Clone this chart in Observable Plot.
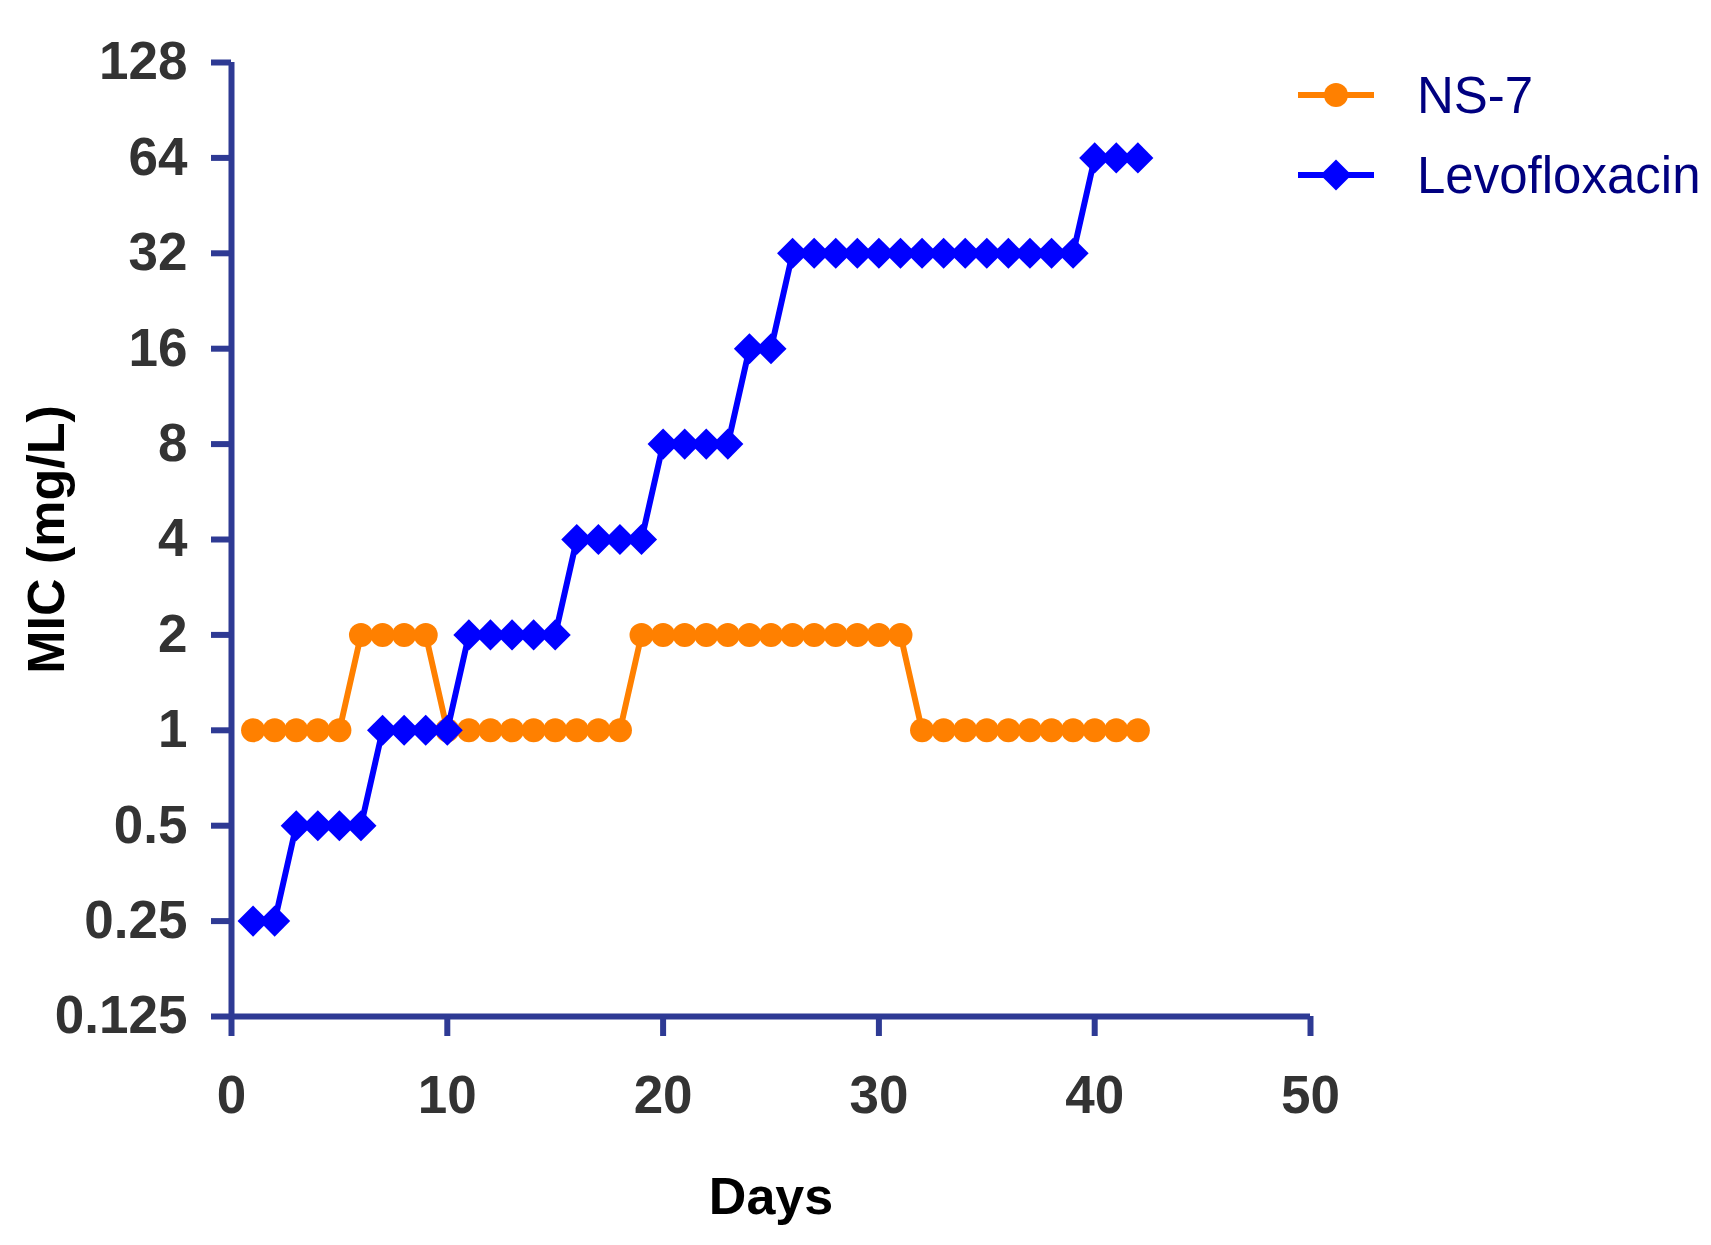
<!DOCTYPE html>
<html>
<head>
<meta charset="utf-8">
<script src="https://cdn.jsdelivr.net/npm/d3@7"></script>
<script src="https://cdn.jsdelivr.net/npm/@observablehq/plot@0.6"></script>
<style>
  html, body { margin: 0; padding: 0; background: #fff; }
  #wrap { position: relative; width: 1711px; height: 1245px; overflow: hidden; }
  #legend { position: absolute; left: 0; top: 0; font-family: "Liberation Sans", Arial, sans-serif; }
  .item { position: absolute; display: flex; align-items: center; white-space: nowrap; }
  .item svg { flex: none; }
  .item span { font-size: 51px; color: #000080; line-height: 1; margin-left: 43px; white-space: nowrap; }
</style>
</head>
<body>
<div id="wrap"><div id="legend"></div></div>
<script>
const days = [1,2,3,4,5,6,7,8,9,10,11,12,13,14,15,16,17,18,19,20,21,22,23,24,25,26,27,28,29,30,31,32,33,34,35,36,37,38,39,40,41,42];
const ns7 = [1,1,1,1,1,2,2,2,2,1,1,1,1,1,1,1,1,1,2,2,2,2,2,2,2,2,2,2,2,2,2,1,1,1,1,1,1,1,1,1,1,1];
const levofloxacin = [0.25,0.25,0.5,0.5,0.5,0.5,1,1,1,1,2,2,2,2,2,4,4,4,4,8,8,8,8,16,16,32,32,32,32,32,32,32,32,32,32,32,32,32,32,64,64,64];
const seriesNames = ["NS-7", "Levofloxacin"];
const seriesColors = ["#FF8000", "#0000FF"];
const seriesSymbols = ["circle", "diamond2"];
const xTicks = [0, 10, 20, 30, 40, 50];
const yTicks = [0.125, 0.25, 0.5, 1, 2, 4, 8, 16, 32, 64, 128];
const xLabel = "Days";
const yLabel = "MIC (mg/L)";

const axisColor = "#2E3A94";
const symbolR = [12, 14];
const rows = seriesNames.map((name, i) => days.map((d, j) => ({day: d, mic: [ns7, levofloxacin][i][j], name})));

const marks = [
  Plot.ruleX([0], {stroke: axisColor, strokeWidth: 6}),
  Plot.ruleY([0.125], {stroke: axisColor, strokeWidth: 6}),
  Plot.axisX({ticks: xTicks, tickSize: 20, tickPadding: 39, stroke: axisColor, strokeWidth: 6,
    fill: "#333", fontSize: 53, fontWeight: "bold", label: null}),
  Plot.axisY({ticks: yTicks, tickSize: 20, tickPadding: 24, stroke: axisColor, strokeWidth: 6,
    fill: "#333", fontSize: 53, fontWeight: "bold", tickFormat: d => String(d), label: null}),
  Plot.axisX({ticks: [], tickSize: 0, label: xLabel, labelArrow: "none", labelAnchor: "center", labelOffset: 197,
    fill: "#000", fontSize: 52, fontWeight: "bold"}),
  Plot.axisY({ticks: [], tickSize: 0, label: yLabel, labelArrow: "none", labelAnchor: "center", labelOffset: 204,
    fill: "#000", fontSize: 52, fontWeight: "bold"})
];
rows.forEach((data, i) => {
  marks.push(Plot.line(data, {x: "day", y: "mic", stroke: seriesColors[i], strokeWidth: 6}));
  marks.push(Plot.dot(data, {x: "day", y: "mic", fill: seriesColors[i], symbol: seriesSymbols[i], r: symbolR[i]}));
});

const chart = Plot.plot({
  width: 1711,
  height: 1245,
  marginLeft: 231,
  marginRight: 401,
  marginTop: 62,
  marginBottom: 229,
  style: {fontFamily: "'Liberation Sans', Arial, sans-serif", background: "#fff", overflow: "visible"},
  x: {domain: [0, 50]},
  y: {type: "log", base: 2, domain: [0.125, 128]},
  marks
});
document.getElementById("wrap").prepend(chart);
chart.style.position = "absolute";
chart.style.left = "0";
chart.style.top = "0";

// legend
const legend = document.getElementById("legend");
const legendTops = [95, 175];
seriesNames.forEach((name, i) => {
  const item = document.createElement("div");
  item.className = "item";
  item.style.left = "1298px";
  item.style.top = (legendTops[i] - 30) + "px";
  item.style.height = "60px";
  const sw = d3.create("svg").attr("width", 76).attr("height", 60);
  sw.append("line").attr("x1", 0).attr("x2", 76).attr("y1", 30).attr("y2", 30)
    .attr("stroke", seriesColors[i]).attr("stroke-width", 6);
  const sym = d3.symbol(i === 0 ? d3.symbolCircle : d3.symbolDiamond2, Math.PI * Math.pow(symbolR[i], 2));
  sw.append("path").attr("d", sym()).attr("transform", "translate(38,30)").attr("fill", seriesColors[i]);
  item.appendChild(sw.node());
  const t = document.createElement("span");
  t.textContent = name;
  item.appendChild(t);
  legend.appendChild(item);
});
</script>
</body>
</html>
